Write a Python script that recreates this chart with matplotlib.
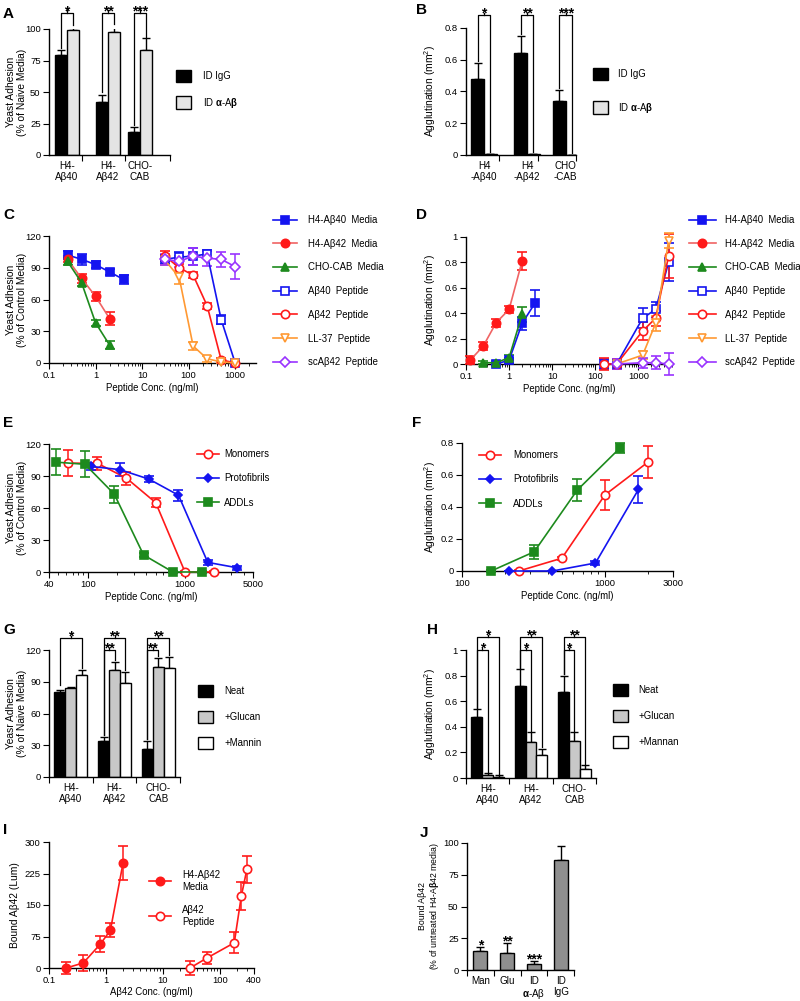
import numpy as np
import matplotlib
matplotlib.use('Agg')
import matplotlib.pyplot as plt
from matplotlib.lines import Line2D
from matplotlib.patches import Patch
from matplotlib.ticker import NullFormatter, LogLocator
from matplotlib.transforms import blended_transform_factory

REGULAR = ['Liberation Sans', 'DejaVu Sans']
plt.rcParams['font.family'] = REGULAR
plt.rcParams['mathtext.fontset'] = 'custom'
plt.rcParams['mathtext.rm'] = 'Liberation Sans'
plt.rcParams['mathtext.bf'] = 'Liberation Sans:bold'
plt.rcParams['mathtext.it'] = 'Liberation Sans:italic'
plt.rcParams['axes.linewidth'] = 1.0

### data
# A - yeast adhesion after immunodepletion
A_groups = ['H4-\nAβ40', 'H4-\nAβ42', 'CHO-\nCAB']
A_igg = [79, 42, 18]
A_igg_err = [4, 6, 4]
A_aab = [99, 98, 83]
A_aab_err = [3, 5, 10]
A_stars = ['*', '**', '***']

# B - agglutination after immunodepletion
B_groups = ['H4\n-Aβ40', 'H4\n-Aβ42', 'CHO\n-CAB']
B_igg = [0.48, 0.64, 0.34]
B_igg_err = [0.10, 0.11, 0.07]
B_aab = [0.005, 0.005, 0.0]
B_aab_err = [0.003, 0.003, 0.0]
B_stars = ['*', '**', '***']

# C - adhesion vs concentration
C_media_x = [0.25, 0.5, 1, 2, 4]
C_h40 = [102, 98, 93, 86, 79]
C_h40_err = [4, 5, 3, 3, 4]
C_h42_x = [0.25, 0.5, 1, 2]
C_h42 = [98, 80, 63, 42]
C_h42_err = [3, 4, 4, 6]
C_cho_x = [0.25, 0.5, 1, 2]
C_cho = [96, 76, 38, 17]
C_cho_err = [3, 3, 3, 4]
C_pep_x = [31.25, 62.5, 125, 250, 500, 1000]
C_ab40 = [98, 100, 101, 103, 41, 0]
C_ab40_err = [4, 5, 8, 4, 4, 1]
C_ab42 = [101, 90, 83, 54, 3, 0]
C_ab42_err = [5, 4, 3, 3, 2, 1]
C_ll37 = [97, 81, 16, 4, 1, 0]
C_ll37_err = [4, 6, 4, 3, 1, 1]
C_sc42 = [98, 96, 101, 99, 98, 91]
C_sc42_err = [5, 5, 8, 7, 7, 12]

# D - agglutination vs concentration
D_h40_x = [0.5, 1, 2, 4]
D_h40 = [0.0, 0.03, 0.32, 0.48]
D_h40_err = [0.01, 0.02, 0.05, 0.10]
D_h42_x = [0.125, 0.25, 0.5, 1, 2]
D_h42 = [0.03, 0.14, 0.325, 0.43, 0.81]
D_h42_err = [0.03, 0.03, 0.03, 0.03, 0.07]
D_cho_x = [0.25, 0.5, 1, 2]
D_cho = [0.01, 0.01, 0.05, 0.39]
D_cho_err = [0.01, 0.01, 0.02, 0.06]
D_pep_x = [156.25, 312.5, 1250, 2500, 5000]
D_ab40 = [0.0, 0.0, 0.36, 0.43, 0.80]
D_ab40_err = [0.04, 0.04, 0.08, 0.06, 0.15]
D_ab42 = [0.0, 0.0, 0.26, 0.36, 0.85]
D_ab42_err = [0.05, 0.04, 0.07, 0.06, 0.17]
D_pep2_x = [312.5, 1250, 2500, 5000]
D_ll37 = [0.0, 0.07, 0.32, 0.97]
D_ll37_err = [0.03, 0.03, 0.06, 0.06]
D_sc42 = [0.0, 0.01, 0.01, 0.0]
D_sc42_err = [0.04, 0.04, 0.05, 0.09]

# E - adhesion vs Abeta species
E_mono_x = [62.5, 125, 250, 500, 1000, 2000]
E_mono = [102, 102, 88, 65, 0, 0]
E_mono_err = [12, 6, 6, 4, 1, 1]
E_proto_x = [107, 214, 428, 857, 1714, 3428]
E_proto = [99, 96, 87, 72, 9, 4]
E_proto_err = [3, 6, 3, 5, 2, 2]
E_addl_x = [46.875, 93.75, 187.5, 375, 750, 1500]
E_addl = [103, 101, 73, 16, 0, 0]
E_addl_err = [12, 12, 8, 2, 1, 1]

# F - agglutination vs Abeta species
F_mono_x = [250, 500, 1000, 2000]
F_mono = [0.0, 0.08, 0.475, 0.68]
F_mono_err = [0.005, 0.01, 0.095, 0.10]
F_proto_x = [215, 430, 860, 1720]
F_proto = [0.0, 0.0, 0.05, 0.51]
F_proto_err = [0.0, 0.0, 0.01, 0.085]
F_addl_x = [160, 320, 640, 1280]
F_addl = [0.0, 0.12, 0.505, 0.77]
F_addl_err = [0.005, 0.045, 0.07, 0.03]

# G - adhesion with glucan / mannin
G_groups = ['H4-\nAβ40', 'H4-\nAβ42', 'CHO-\nCAB']
G_neat = [80, 34, 26]
G_neat_err = [2, 4, 8]
G_glucan = [84, 101, 104]
G_glucan_err = [1, 8, 8]
G_mannin = [96, 89, 103]
G_mannin_err = [5, 10, 10]
G_inner_stars = ['', '**', '**']
G_outer_stars = ['*', '**', '**']

# H - agglutination with glucan / mannan
H_groups = ['H4-\nAβ40', 'H4-\nAβ42', 'CHO-\nCAB']
H_neat = [0.48, 0.72, 0.67]
H_neat_err = [0.06, 0.13, 0.13]
H_glucan = [0.02, 0.28, 0.29]
H_glucan_err = [0.02, 0.08, 0.07]
H_mannan = [0.01, 0.18, 0.07]
H_mannan_err = [0.01, 0.05, 0.03]
H_inner_stars = ['*', '*', '*']
H_outer_stars = ['*', '**', '**']

# I - bound Abeta42
I_media_x = [0.2, 0.4, 0.8, 1.2, 2.0]
I_media = [0, 12, 57, 90, 250]
I_media_err = [15, 18, 20, 17, 40]
I_pep_x = [30, 60, 180, 240, 300]
I_pep = [0, 24, 60, 172, 235]
I_pep_err = [17, 14, 25, 33, 32]

# J - bound Abeta42, % of untreated
J_labels = ['Man', 'Glu', 'ID\n$\\mathbf{\\alpha}$-Aβ', 'ID\nIgG']
J_vals = [15, 13, 5, 87]
J_err = [3, 8, 2, 11]
J_stars = ['*', '**', '***', '']

### colours
BLUE = '#1414f0'
RED = '#ff1a1a'
PINK = '#f06464'
GREEN = '#1d8a1d'
ORANGE = '#ff9933'
PURPLE = '#9933ff'
LGRAY = '#e4e4e4'
MGRAY = '#c8c8c8'
DGRAY = '#8f8f8f'

W, H = 800, 1001
fig = plt.figure(figsize=(W / 100, H / 100), dpi=100)
FS = 6.9     # legend / x label text
TS = 6.8     # tick labels
YS = 7.4     # vertical y labels


def add_ax(l, t, r, b):
    ax = fig.add_axes([l / W, 1 - b / H, (r - l) / W, (b - t) / H])
    ax.spines[['top', 'right']].set_visible(False)
    ax.tick_params(labelsize=TS, length=4, width=0.8, pad=2)
    ax.tick_params(which='minor', length=2, width=0.6)
    return ax


def ylab(ax, text, xpx, size=YS):
    ax.set_ylabel(text, fontsize=size, linespacing=1.1)
    tr = blended_transform_factory(fig.transFigure, ax.transAxes)
    ax.yaxis.set_label_coords(xpx / W, 0.5, transform=tr)


def letter(s, x, y):
    fig.text(x / W, 1 - y / H, s, fontsize=11, fontweight='bold', va='center', ha='left')


def legend(ax, handles, labels, xpx, ypx, **kw):
    opts = dict(loc='upper left', bbox_to_anchor=(xpx / W, 1 - ypx / H),
                bbox_transform=fig.transFigure, frameon=False, borderpad=0,
                borderaxespad=0, fontsize=FS)
    opts.update(kw)
    ax.legend(handles, labels, **opts)


def curve(ax, x, y, e, color, marker, filled, ms=6, lc=None):
    c = ax.errorbar(x, y, yerr=e, color=lc or color, ecolor=color, marker=marker,
                    mfc=color if filled else 'white', mec=color, mew=1.2, ms=ms,
                    lw=1.2, elinewidth=1.1, capsize=3.5, capthick=1.1, zorder=3)
    for art in c.get_children():
        art.set_clip_on(False)


def proxy(color, marker, filled, ms=6, lc=None):
    return Line2D([], [], color=lc or color, marker=marker, mec=color,
                  mfc=color if filled else 'white', mew=1.2, ms=ms, lw=1.2)


def log_x(ax, lo, hi, ticks, labels):
    ax.set_xscale('log')
    ax.set_xlim(lo, hi)
    ax.set_xticks(ticks, labels)
    ax.xaxis.set_minor_locator(LogLocator(base=10, subs=np.arange(2, 10)))
    ax.xaxis.set_minor_formatter(NullFormatter())


def grouped_bars(ax, pos, vals_list, errs_list, colors, width):
    n = len(vals_list)
    out = []
    for i in range(n):
        xs = np.asarray(pos, float) + (i - (n - 1) / 2) * width
        v = np.asarray(vals_list[i], float)
        e = np.asarray(errs_list[i], float)
        ax.bar(xs, v, width, color=colors[i], edgecolor='black', linewidth=1, zorder=2)
        ax.errorbar(xs, v, yerr=[np.zeros_like(e), e], fmt='none', ecolor='black',
                    elinewidth=1, capsize=3, capthick=1, zorder=1)
        out.append((xs, v + e))
    return out


def bar_xaxis(ax, pos, labels, bounds):
    ax.set_xticks(pos, labels)
    ax.tick_params(axis='x', which='major', length=0, pad=4, labelsize=FS + 0.2)
    ax.set_xticks(bounds, minor=True)
    ax.tick_params(axis='x', which='minor', length=4, width=0.8)
    for t in ax.get_xticklabels():
        t.set_linespacing(1.15)


def star(ax, x, y, text, fs=10):
    ax.annotate(text, (x, y), xytext=(0, -1.5), textcoords='offset points',
                ha='center', va='baseline', fontsize=fs, fontweight='bold',
                annotation_clip=False)


def bracket(ax, x1, x2, y1, y2, top, text, notch):
    ax.plot([x1, x1, x2, x2], [y1, top, top, y2], color='black', lw=0.9,
            clip_on=False, zorder=4)
    xm = (x1 + x2) / 2
    ax.plot([xm, xm], [top, top + notch], color='black', lw=0.9, clip_on=False, zorder=4)
    star(ax, xm, top, text)


SQ = dict(handlelength=1.6, handleheight=1.6)

### A
ax = add_ax(49, 29, 170, 155)
A_pos = [0, 1, 1.78]
bw = 0.29
tops = grouped_bars(ax, A_pos, [A_igg, A_aab], [A_igg_err, A_aab_err], ['black', LGRAY], bw)
ax.set_ylim(0, 100)
ax.set_xlim(-0.44, 2.51)
ax.set_yticks([0, 25, 50, 75, 100])
bar_xaxis(ax, A_pos, A_groups, [0.37, 1.41, 2.51])
for k in range(3):
    bracket(ax, tops[0][0][k], tops[1][0][k], tops[0][1][k] + 2, tops[1][1][k] + 1,
            112.7, A_stars[k], 2)
ylab(ax, 'Yeast Adhesion\n(% of Naive Media)', 27)
legend(ax, [Patch(fc='black', ec='black'), Patch(fc=LGRAY, ec='black')],
       ['ID IgG', 'ID $\\mathbf{\\alpha}$-A$\\mathbf{\\beta}$'], 176, 70,
       handletextpad=1.2, labelspacing=1.4, **SQ)
letter('A', 3, 14)

### B
ax = add_ax(466, 28, 576, 155)
B_pos = [0, 1, 1.9]
bw = 0.30
tops = grouped_bars(ax, B_pos, [B_igg, B_aab], [B_igg_err, B_aab_err], ['black', LGRAY], bw)
ax.set_ylim(0, 0.8)
ax.set_xlim(-0.42, 2.14)
ax.set_yticks([0, 0.2, 0.4, 0.6, 0.8], ['0', '0.2', '0.4', '0.6', '0.8'])
bar_xaxis(ax, B_pos, B_groups, [0.35, 1.26, 2.14])
for k in range(3):
    bracket(ax, tops[0][0][k], tops[1][0][k], tops[0][1][k] + 0.01, tops[1][1][k] + 0.01,
            0.88, B_stars[k], 0.015)
ylab(ax, 'Agglutination (mm$^2$)', 438)
legend(ax, [Patch(fc='black', ec='black'), Patch(fc=LGRAY, ec='black')],
       ['ID IgG', 'ID $\\mathbf{\\alpha}$-A$\\mathbf{\\beta}$'], 593, 68,
       handletextpad=1.05, labelspacing=2.12, **SQ)
letter('B', 416, 10)

### C
ax = add_ax(49, 236, 256, 363)
curve(ax, C_media_x, C_h40, C_h40_err, BLUE, 's', True)
curve(ax, C_h42_x, C_h42, C_h42_err, RED, 'o', True, lc=PINK)
curve(ax, C_cho_x, C_cho, C_cho_err, GREEN, '^', True)
curve(ax, C_pep_x, C_ab40, C_ab40_err, BLUE, 's', False)
curve(ax, C_pep_x, C_ab42, C_ab42_err, RED, 'o', False)
curve(ax, C_pep_x, C_ll37, C_ll37_err, ORANGE, 'v', False)
curve(ax, C_pep_x, C_sc42, C_sc42_err, PURPLE, 'D', False, ms=5.5)
log_x(ax, 0.1, 2800, [0.1, 1, 10, 100, 1000], ['0.1', '1', '10', '100', '1000'])
ax.set_ylim(0, 120)
ax.set_yticks([0, 30, 60, 90, 120])
ax.set_xlabel('Peptide Conc. (ng/ml)', fontsize=FS, labelpad=2)
ylab(ax, 'Yeast Adhesion\n(% of Control Media)', 27)
series_names = ['H4-Aβ40  Media', 'H4-Aβ42  Media', 'CHO-CAB  Media', 'Aβ40  Peptide',
                'Aβ42  Peptide', 'LL-37  Peptide', 'scAβ42  Peptide']
handles = [proxy(BLUE, 's', True), proxy(RED, 'o', True, lc=PINK), proxy(GREEN, '^', True),
           proxy(BLUE, 's', False), proxy(RED, 'o', False), proxy(ORANGE, 'v', False),
           proxy(PURPLE, 'D', False, ms=5.5)]
legend(ax, handles, series_names, 273, 215, handlelength=2.5, handletextpad=1.1,
       labelspacing=1.43)
letter('C', 3, 215)

### D
ax = add_ax(466, 237, 672, 364)
curve(ax, D_h40_x, D_h40, D_h40_err, BLUE, 's', True)
curve(ax, D_h42_x, D_h42, D_h42_err, RED, 'o', True, lc=PINK)
curve(ax, D_cho_x, D_cho, D_cho_err, GREEN, '^', True)
curve(ax, D_pep_x, D_ab40, D_ab40_err, BLUE, 's', False)
curve(ax, D_pep_x, D_ab42, D_ab42_err, RED, 'o', False)
curve(ax, D_pep2_x, D_ll37, D_ll37_err, ORANGE, 'v', False)
curve(ax, D_pep2_x, D_sc42, D_sc42_err, PURPLE, 'D', False, ms=5.5)
log_x(ax, 0.1, 6000, [0.1, 1, 10, 100, 1000], ['0.1', '1', '10', '100', '1000'])
ax.set_ylim(0, 1)
ax.set_yticks([0, 0.2, 0.4, 0.6, 0.8, 1], ['0', '0.2', '0.4', '0.6', '0.8', '1'])
ax.set_xlabel('Peptide Conc. (ng/ml)', fontsize=FS, labelpad=2)
ylab(ax, 'Agglutination (mm$^2$)', 438)
legend(ax, handles, series_names, 689, 215, handlelength=2.8, handletextpad=1.0,
       labelspacing=1.43)
letter('D', 416, 215)

### E
ax = add_ax(49, 444, 253, 572)
curve(ax, E_mono_x, E_mono, E_mono_err, RED, 'o', False)
curve(ax, E_proto_x, E_proto, E_proto_err, BLUE, 'D', True, ms=4.5)
curve(ax, E_addl_x, E_addl, E_addl_err, GREEN, 's', True)
log_x(ax, 40, 5000, [40, 100, 1000, 5000], ['40', '100', '1000', '5000'])
ax.set_ylim(0, 120)
ax.set_yticks([0, 30, 60, 90, 120])
ax.set_xlabel('Peptide Conc. (ng/ml)', fontsize=FS, labelpad=2)
ylab(ax, 'Yeast Adhesion\n(% of Control Media)', 27)
legend(ax, [proxy(RED, 'o', False), proxy(BLUE, 'D', True, ms=4.5), proxy(GREEN, 's', True)],
       ['Monomers', 'Protofibrils', 'ADDLs'], 197, 449, handlelength=2.3,
       handletextpad=0.5, labelspacing=1.5)
letter('E', 3, 423)

### F
ax = add_ax(462, 443, 673, 571)
curve(ax, F_mono_x, F_mono, F_mono_err, RED, 'o', False)
curve(ax, F_proto_x, F_proto, F_proto_err, BLUE, 'D', True, ms=4.5)
curve(ax, F_addl_x, F_addl, F_addl_err, GREEN, 's', True)
log_x(ax, 100, 3000, [100, 1000, 3000], ['100', '1000', '3000'])
ax.set_ylim(0, 0.8)
ax.set_yticks([0, 0.2, 0.4, 0.6, 0.8], ['0', '0.2', '0.4', '0.6', '0.8'])
ax.set_xlabel('Peptide Conc. (ng/ml)', fontsize=FS, labelpad=2)
ylab(ax, 'Agglutination (mm$^2$)', 438)
legend(ax, [proxy(RED, 'o', False), proxy(BLUE, 'D', True, ms=4.5), proxy(GREEN, 's', True)],
       ['Monomers', 'Protofibrils', 'ADDLs'], 479, 450, handlelength=2.3,
       handletextpad=1.25, labelspacing=1.5)
letter('F', 412, 423)

### G
ax = add_ax(49, 650, 180, 777)
G_pos = [0, 1, 2]
bw = 0.25
tops = grouped_bars(ax, G_pos, [G_neat, G_glucan, G_mannin],
                    [G_neat_err, G_glucan_err, G_mannin_err], ['black', MGRAY, 'white'], bw)
ax.set_ylim(0, 120)
ax.set_xlim(-0.5, 2.5)
ax.set_yticks([0, 30, 60, 90, 120])
bar_xaxis(ax, G_pos, G_groups, [-0.5, 0.5, 1.5, 2.5])
for k in range(3):
    left_top = max(tops[0][1][k], tops[1][1][k]) if not G_inner_stars[k] else tops[0][1][k]
    if G_inner_stars[k]:
        bracket(ax, tops[0][0][k], tops[1][0][k], tops[0][1][k] + 2, tops[1][1][k] + 2,
                120, G_inner_stars[k], 2)
    bracket(ax, tops[0][0][k], tops[2][0][k], left_top + 2, tops[2][1][k] + 2,
            131, G_outer_stars[k], 2)
ylab(ax, 'Yeasr Adhesion\n(% of Naive Media)', 27)
legend(ax, [Patch(fc='black', ec='black'), Patch(fc=MGRAY, ec='black'),
            Patch(fc='white', ec='black')], ['Neat', '+Glucan', '+Mannin'], 198, 685,
       handletextpad=1.15, labelspacing=1.42, **SQ)
letter('G', 3, 630)

### H
ax = add_ax(466, 650, 596, 778)
H_pos = [0, 1, 2]
tops = grouped_bars(ax, H_pos, [H_neat, H_glucan, H_mannan],
                    [H_neat_err, H_glucan_err, H_mannan_err], ['black', MGRAY, 'white'], bw)
ax.set_ylim(0, 1)
ax.set_xlim(-0.5, 2.5)
ax.set_yticks([0, 0.2, 0.4, 0.6, 0.8, 1], ['0', '0.2', '0.4', '0.6', '0.8', '1'])
bar_xaxis(ax, H_pos, H_groups, [-0.5, 0.5, 1.5, 2.5])
for k in range(3):
    bracket(ax, tops[0][0][k], tops[1][0][k], tops[0][1][k] + 0.01, tops[1][1][k] + 0.01,
            1.0, H_inner_stars[k], 0.015)
    bracket(ax, tops[0][0][k], tops[2][0][k], tops[0][1][k] + 0.01, tops[2][1][k] + 0.01,
            1.10, H_outer_stars[k], 0.015)
ylab(ax, 'Agglutination (mm$^2$)', 438)
legend(ax, [Patch(fc='black', ec='black'), Patch(fc=MGRAY, ec='black'),
            Patch(fc='white', ec='black')], ['Neat', '+Glucan', '+Mannan'], 613, 684,
       handletextpad=1.05, labelspacing=1.42, **SQ)
letter('H', 427, 630)

### I
ax = add_ax(49, 842, 254, 968)
curve(ax, I_media_x, I_media, I_media_err, RED, 'o', True)
curve(ax, I_pep_x, I_pep, I_pep_err, RED, 'o', False)
log_x(ax, 0.1, 400, [0.1, 1, 10, 100, 400], ['0.1', '1', '10', '100', '400'])
ax.set_ylim(0, 300)
ax.set_yticks([0, 75, 150, 225, 300])
ax.set_xlabel('Aβ42 Conc. (ng/ml)', fontsize=FS, labelpad=1)
ylab(ax, 'Bound Aβ42 (Lum)', 20)
legend(ax, [proxy(RED, 'o', True), proxy(RED, 'o', False)],
       ['H4-Aβ42\nMedia', 'Aβ42\nPeptide'], 149, 870, handlelength=2.3,
       handletextpad=1.15, labelspacing=1.4)
letter('I', 3, 830)

### J
ax = add_ax(467, 843, 574, 970)
J_pos = np.arange(len(J_vals))
ax.bar(J_pos, J_vals, 0.52, color=DGRAY, edgecolor='black', linewidth=1, zorder=2)
ax.errorbar(J_pos, J_vals, yerr=[np.zeros(len(J_err)), J_err], fmt='none', ecolor='black',
            elinewidth=1, capsize=3, capthick=1, zorder=1)
for k in range(len(J_vals)):
    if J_stars[k]:
        star(ax, J_pos[k], J_vals[k] + J_err[k], J_stars[k])
ax.set_ylim(0, 100)
ax.set_xlim(-0.5, 3.5)
ax.set_yticks([0, 25, 50, 75, 100])
bar_xaxis(ax, J_pos, J_labels, [-0.5, 0.5, 1.5, 2.5, 3.5])
ylab(ax, 'Bound Aβ42\n(% of untreated H4-A$\\mathbf{\\beta}$42 media)', 441, size=6.3)
letter('J', 420, 833)

fig.savefig('out.png', dpi=100)
